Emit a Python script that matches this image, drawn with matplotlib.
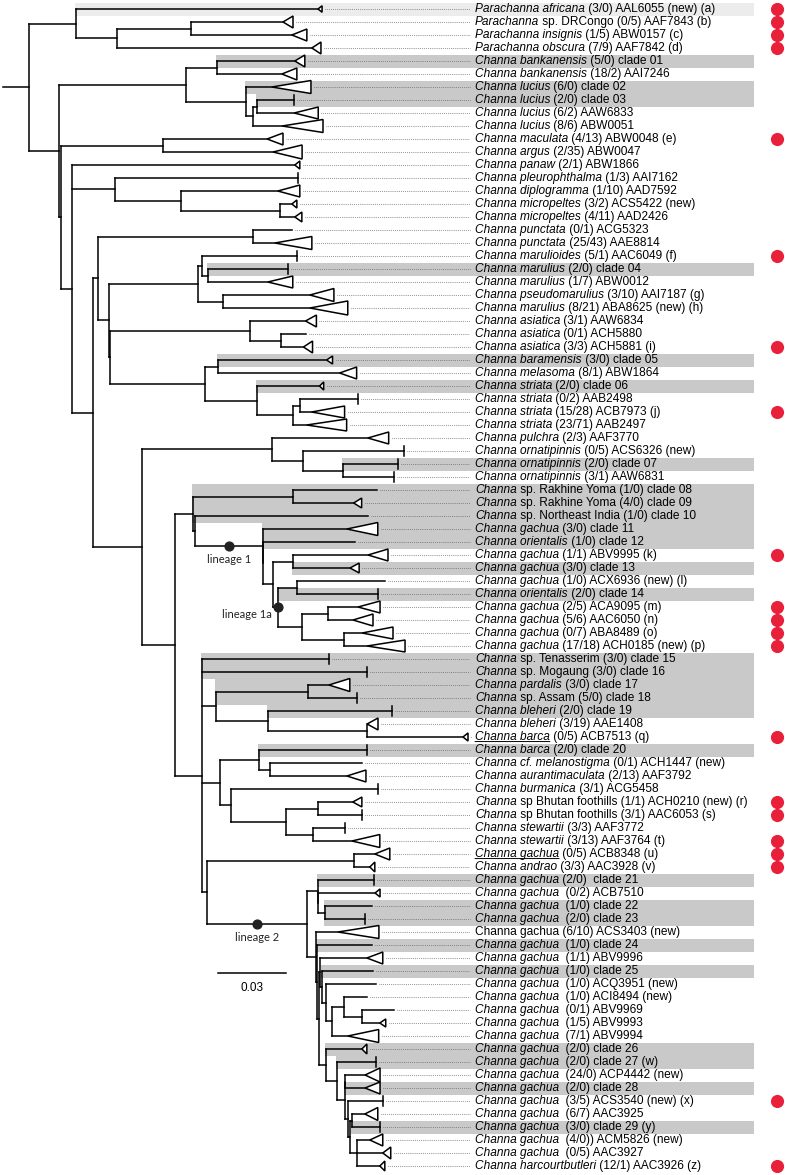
import re
import matplotlib.pyplot as plt
from matplotlib.patches import Polygon, Rectangle

plt.rcParams['font.family'] = ['Liberation Sans', 'DejaVu Sans']

# tree, branch lengths in substitutions/site;
# leaves are numbered by their row from the top
PARACHANNA = "(1:0.1065,((2:0.0405,3:0.0444)BC:0.0326,4:0.0858)BCD:0.0180)PARA:0.0207"
BANK_LUCIUS = ("((5:0.0343,6:0.0286)BANK:0.0136,(7:0.0114,((8:0.0163,9:0.0163)LUC3:0.0018,"
               "10:0.0128)LUC2:0.0031)LUC:0.0264)BL:0.0559")
MACULATA = "(11:0.0458,12:0.0484)MA:0.0449"
MICROPELTES = "(14:0.0805,(15:0.0427,(16:0.0053,17:0.0066)E:0.0436)D:0.0290)C:0.0189"
MARULIUS = ("((18:0.0172,19:0.0097)H:0.0682,(((20:0.0418,(21:0.0352,22:0.0264)J2:0.0026)J1:0.0018,"
            "(23:0.0383,24:0.0383)M:0.0110)J:0.0392,((25:0.0242,(26:0.0114,27:0.0101)K1:0.0132)K:0.0620,"
            "((28:0.0480,29:0.0537)L1:0.0057,(30:0.0277,((31:0.0255,32:0.0053)L4:0.0031,"
            "33:0.0062)L3:0.0158)L2:0.0229)L:0.0418)I2:0.0004)I1:0.0048)G:0.0022")
ORNATIPINNIS = "(34:0.0422,(35:0.0444,(36:0.0242,37:0.0224)O2:0.0176)O1:0.0136)O:0.0572"
LINEAGE1 = ("((38:0.0370,39:0.0268)R1:0.0440,(40:0.0761,(41:0.0370,(42:0.0405,((43:0.0330,"
            "44:0.0251)U1:0.0088,((45:0.0387,46:0.0356)V:0.0084,((47:0.0132,48:0.0110)W1:0.0114,"
            "(49:0.0079,50:0.0101)W2:0.0185)W:0.0106)X:0.0022)U:0.0044)S1:0.0001)S:0.0299)R2:0.0009)R:0.0079")
LINEAGE2_LOW = ("(81:0.0158,(82:0.0172,((83:0.0088,84:0.0088)N345a:0.0001,(85:0.0154,((86:0.0057,"
                "87:0.0123)N352:0.0009,(88:0.0057,89:0.0114,90:0.0101)N357:0.0031)N350:0.0009)"
                "N348:0.0013)N345:0.0035)N337:0.0048)N326b:0.0031")
LINEAGE2 = ("((68:0.0246,(69:0.0251,(70:0.0207,71:0.0176)N325:0.0031)N318b:0.0001)N318a:0.0048,"
            "(72:0.0097,(73:0.0242,((74:0.0207,(75:0.0224,(76:0.0220,((77:0.0101,(78:0.0141,"
            "79:0.0079)N362:0.0079)N344:0.0053,80:0.0070)N332:0.0026)N326a:0.0018)N322:0.0009)M4:0.0004,"
            + LINEAGE2_LOW + ")M3:0.0009)M2:0.0004)M1:0.0040)LIN2:0.0440")
OTHERS = ("(51:0.0559,52:0.0726,((53:0.0092,54:0.0216)Y1:0.0405,(55:0.0546,(56:0.0000,"
          "57:0.0422)Y3:0.0436)Y2:0.0229)Y:0.0062,((58:0.0475,(59:0.0405,60:0.0339)Z2:0.0048)Z1:0.0172,"
          "(61:0.0647,((62:0.0154,63:0.0194)Z5:0.0141,(64:0.0141,65:0.0172)Z6:0.0119)Z4:0.0242)Z3:0.0048)"
          "Z:0.0079,((66:0.0092,67:0.0070)UV:0.0647," + LINEAGE2 + ")Q2:0.0022)Q:0.0119")
NEWICK = ("(" + PARACHANNA + ",(" + BANK_LUCIUS + ",(" + MACULATA + ",(13:0.0981," + MICROPELTES
          + ",(" + MARULIUS + ",(" + ORNATIPINNIS + ",(" + LINEAGE1 + "," + OTHERS
          + ")P:0.0145)N:0.0216)F:0.0092)B:0.0048)A2:0.0009)A1:0.0132)ROOT:0.0114;")

LABELS = [
    "*Parachanna africana* (3/0) AAL6055 (new) (a)", "*Parachanna* sp. DRCongo (0/5) AAF7843 (b)",
    "*Parachanna insignis* (1/5) ABW0157 (c)", "*Parachanna obscura* (7/9) AAF7842 (d)",
    "*Channa bankanensis* (5/0) clade 01", "*Channa bankanensis* (18/2) AAI7246",
    "*Channa lucius* (6/0) clade 02", "*Channa lucius* (2/0) clade 03",
    "*Channa lucius* (6/2) AAW6833", "*Channa lucius* (8/6) ABW0051",
    "*Channa maculata* (4/13) ABW0048 (e)", "*Channa argus* (2/35) ABW0047",
    "*Channa panaw* (2/1) ABW1866", "*Channa pleurophthalma* (1/3) AAI7162",
    "*Channa diplogramma* (1/10) AAD7592", "*Channa micropeltes* (3/2) ACS5422 (new)",
    "*Channa micropeltes* (4/11) AAD2426", "*Channa punctata* (0/1) ACG5323",
    "*Channa punctata* (25/43) AAE8814", "*Channa marulioides* (5/1) AAC6049 (f)",
    "*Channa marulius* (2/0) clade 04", "*Channa marulius* (1/7) ABW0012",
    "*Channa pseudomarulius* (3/10) AAI7187 (g)", "*Channa marulius* (8/21) ABA8625 (new) (h)",
    "*Channa asiatica* (3/1) AAW6834", "*Channa asiatica* (0/1) ACH5880",
    "*Channa asiatica* (3/3) ACH5881 (i)", "*Channa baramensis* (3/0) clade 05",
    "*Channa melasoma* (8/1) ABW1864", "*Channa striata* (2/0) clade 06",
    "*Channa striata* (0/2) AAB2498", "*Channa striata* (15/28) ACB7973 (j)",
    "*Channa striata* (23/71) AAB2497", "*Channa pulchra* (2/3) AAF3770",
    "*Channa ornatipinnis* (0/5) ACS6326 (new)", "*Channa ornatipinnis* (2/0) clade 07",
    "*Channa ornatipinnis* (3/1) AAW6831", "*Channa* sp. Rakhine Yoma (1/0) clade 08",
    "*Channa* sp. Rakhine Yoma (4/0) clade 09", "*Channa* sp. Northeast India (1/0) clade 10",
    "*Channa gachua* (3/0) clade 11", "*Channa orientalis* (1/0) clade 12",
    "*Channa gachua* (1/1) ABV9995 (k)", "*Channa gachua* (3/0) clade 13",
    "*Channa gachua* (1/0) ACX6936 (new) (l)", "*Channa orientalis* (2/0) clade 14",
    "*Channa gachua* (2/5) ACA9095 (m)", "*Channa gachua* (5/6) AAC6050 (n)",
    "*Channa gachua* (0/7) ABA8489 (o)", "*Channa gachua* (17/18) ACH0185 (new) (p)",
    "*Channa* sp. Tenasserim (3/0) clade 15", "*Channa* sp. Mogaung (3/0) clade 16",
    "*Channa pardalis* (3/0) clade 17", "*Channa* sp. Assam (5/0) clade 18",
    "*Channa bleheri* (2/0) clade 19", "*Channa bleheri* (3/19) AAE1408",
    "_Channa barca_ (0/5) ACB7513 (q)", "*Channa barca* (2/0) clade 20",
    "*Channa cf. melanostigma* (0/1) ACH1447 (new)", "*Channa aurantimaculata* (2/13) AAF3792",
    "*Channa burmanica* (3/1) ACG5458", "*Channa* sp Bhutan foothills (1/1) ACH0210 (new) (r)",
    "*Channa* sp Bhutan foothills (3/1) AAC6053 (s)", "*Channa stewartii* (3/3) AAF3772",
    "*Channa stewartii* (3/13) AAF3764 (t)", "_Channa gachua_ (0/5) ACB8348 (u)",
    "*Channa andrao* (3/3) AAC3928 (v)", "*Channa gachua* (2/0)  clade 21",
    "*Channa gachua*  (0/2) ACB7510", "*Channa gachua*  (1/0) clade 22",
    "*Channa gachua*  (2/0) clade 23", "Channa gachua (6/10) ACS3403 (new)",
    "*Channa gachua*  (1/0) clade 24", "*Channa gachua*  (1/1) ABV9996",
    "*Channa gachua*  (1/0) clade 25", "*Channa gachua*  (1/0) ACQ3951 (new)",
    "*Channa gachua*  (1/0) ACI8494 (new)", "*Channa gachua*  (0/1) ABV9969",
    "*Channa gachua*  (1/5) ABV9993", "*Channa gachua*  (7/1) ABV9994",
    "*Channa gachua*  (2/0) clade 26", "*Channa gachua*  (2/0) clade 27 (w)",
    "*Channa gachua*  (24/0) ACP4442 (new)", "*Channa gachua*  (2/0) clade 28",
    "*Channa gachua*  (3/5) ACS3540 (new) (x)", "*Channa gachua*  (6/7) AAC3925",
    "*Channa gachua*  (3/0) clade 29 (y)", "*Channa gachua*  (4/0)) ACM5826 (new)",
    "*Channa gachua*  (0/5) AAC3927", "*Channa harcourtbutleri* (12/1) AAC3926 (z)",
]

# collapsed clades: triangle length (subst./site), 0 = tick, -1 = plain tip
TRI_LEN = [0.0018, 0.0044, 0.0066, 0.0040, 0.0044, 0.0066, 0.0172, 0, 0.0106, 0.0180,
           0.0070, 0.0128, 0.0022, 0, 0.0097, 0.0022, 0.0031, -1, 0.0163, 0,
           0, 0.0110, 0.0106, 0.0167, 0.0048, -1, 0.0040, 0.0026, 0.0075, 0.0018,
           0, 0.0145, 0.0176, 0.0092, 0, 0, 0, -1, 0.0035, -1,
           0.0136, -1, 0.0088, 0.0040, -1, 0, 0.0097, 0.0088, 0.0136, 0.0167,
           0, 0, 0.0092, 0, 0, 0.0048, 0.0022, 0, -1, 0.0084,
           0, 0.0040, 0, 0, 0.0123, 0.0066, 0.0022, 0, 0.0022, -1,
           0, 0.0180, -1, 0.0070, -1, -1, -1, -1, 0.0026, 0.0136,
           0.0022, 0, 0.0066, 0.0066, 0, 0.0057, 0, 0.0057, 0.0035, 0.0022]
# half height of each triangle / tick, in rows
TRI_HALF = [0.25, 0.46, 0.46, 0.46, 0.46, 0.46, 0.5, 0.38, 0.46, 0.5,
            0.46, 0.54, 0.31, 0.38, 0.46, 0.31, 0.38, 0, 0.5, 0.38,
            0.38, 0.46, 0.5, 0.54, 0.46, 0, 0.46, 0.31, 0.46, 0.31,
            0.38, 0.46, 0.46, 0.46, 0.38, 0.38, 0.38, 0, 0.38, 0,
            0.5, 0, 0.46, 0.38, 0, 0.38, 0.46, 0.46, 0.46, 0.46,
            0.38, 0.38, 0.5, 0.38, 0.38, 0.46, 0.31, 0.38, 0, 0.46,
            0.38, 0.38, 0.38, 0.38, 0.5, 0.46, 0.38, 0.38, 0.31, 0,
            0.38, 0.5, 0, 0.46, 0, 0, 0, 0, 0.31, 0.5,
            0.38, 0.38, 0.54, 0.46, 0.38, 0.5, 0.38, 0.46, 0.46, 0.38]

# shaded clades: first row, last row, node the shading starts at
BANDS = [(1, 1, "PARA"), (5, 5, "BANK"), (7, 7, "LUC"), (8, 8, "LUC3"), (21, 21, "J2"),
         (28, 28, "L1"), (30, 30, "L2"), (36, 36, "O2"), (38, 40, "R"), (41, 42, "S"),
         (44, 44, "U1"), (46, 46, "X"), (51, 52, "Q"), (53, 54, "Y"), (55, 55, "Y2"),
         (58, 58, "Z1"), (68, 68, "N318a"), (70, 71, "N325"), (73, 73, "M2"), (75, 75, "N322"),
         (81, 81, "N326b"), (82, 82, "N337"), (84, 84, "N345"), (87, 87, "N352")]

RED_ROWS = [1, 2, 3, 4, 11, 20, 27, 32, 43, 47, 48, 49, 50, 57, 62, 63, 65, 66, 67, 85, 90]

# lineage marks: label, node, dot on the branch middle or on the node itself
LINEAGES = [("lineage 1", "S", "mid"), ("lineage 1a", "X", "node"), ("lineage 2", "LIN2", "mid")]
SCALE = 0.03

PXU = 1 / 0.00044  # pixels per substitution unit


def X(px):
    return (px - 3) / PXU


def Yr(px):
    return (px - 9) / 13


def parse(s):
    pos = 0

    def node():
        nonlocal pos
        kids = []
        if s[pos] == "(":
            pos += 1
            kids.append(node())
            while s[pos] == ",":
                pos += 1
                kids.append(node())
            pos += 1
        m = re.match(r"([^:,();]*)(?::([0-9.]+))?", s[pos:])
        pos += m.end()
        return {"name": m.group(1), "len": float(m.group(2) or 0), "kids": kids}

    return node()


def layout(n, x0, out):
    n["x0"] = x0
    n["x"] = x0 + n["len"]
    for k in n["kids"]:
        layout(k, n["x"], out)
    if n["kids"]:
        n["y"] = (n["kids"][0]["y"] + n["kids"][-1]["y"]) / 2
    else:
        n["y"] = int(n["name"]) - 1
    out.append(n)


tree = parse(NEWICK)
nodes = []
layout(tree, 0.0, nodes)
by_name = {n["name"]: n for n in nodes}

fig = plt.figure(figsize=(7.85, 11.75), dpi=100)
ax = fig.add_axes([0, 0, 1, 1])
ax.set_xlim(X(0), X(785))
ax.set_ylim(Yr(1175), Yr(0))
ax.axis("off")

LW = 1.1

# shaded bands behind the clades
for i, (r0, r1, nm) in enumerate(BANDS):
    x0 = by_name[nm]["x"] - 1 / PXU
    ax.add_patch(Rectangle((x0, r0 - 1.5), X(754) - x0, r1 - r0 + 1,
                           fc="#ececec" if i == 0 else "#c9c9c9", ec="none", zorder=0))

# branches
for n in nodes:
    ax.plot([n["x0"], n["x"]], [n["y"], n["y"]], color="k", lw=LW,
            solid_capstyle="projecting", zorder=2)
    if n["kids"]:
        ax.plot([n["x"], n["x"]], [n["kids"][0]["y"], n["kids"][-1]["y"]], color="k",
                lw=LW, solid_capstyle="projecting", zorder=2)

# tips: triangles, ticks and dotted leaders
for n in nodes:
    if n["kids"]:
        continue
    i = int(n["name"]) - 1
    L, h, y = TRI_LEN[i], TRI_HALF[i], n["y"]
    end = n["x"]
    if L > 0:
        ax.add_patch(Polygon([(end, y), (end + L, y - h), (end + L, y + h)], closed=True,
                             fc="white", ec="k", lw=LW, zorder=3))
        end += L
    elif L == 0:
        ax.plot([end, end], [y - h, y + h], color="k", lw=LW, zorder=3)
    ax.plot([end + 3 / PXU, X(470)], [y, y], color="#555555", lw=0.6,
            linestyle=(0, (0.8, 1.5)), zorder=1)

# tip labels with italic / underlined names
for i, lab in enumerate(LABELS):
    prev = None
    for part in re.split(r"([*_][^*_]+[*_])", lab):
        if not part:
            continue
        under = part[0] == "_"
        italic = part[0] in "*_"
        if italic:
            part = part[1:-1]
        kw = dict(fontsize=8.6, fontstyle="italic" if italic else "normal", zorder=4)
        if prev is None:
            t = ax.text(X(475), i, part, va="center", ha="left", **kw)
        else:
            t = ax.annotate(part, xy=(1, 0), xycoords=prev, va="bottom", ha="left", **kw)
        if under:
            ax.annotate("", xy=(0, 0.12), xycoords=t, xytext=(1, 0.12), textcoords=t,
                        arrowprops=dict(arrowstyle="-", lw=0.7, shrinkA=0, shrinkB=0))
        prev = t

# red markers
ax.scatter([X(777)] * len(RED_ROWS), [r - 1 for r in RED_ROWS], s=90, color="#e8203a",
           linewidths=0, zorder=5)

# lineage markers
for lab, nm, where in LINEAGES:
    n = by_name[nm]
    x = (n["x0"] + n["x"]) / 2 if where == "mid" else n["x"]
    ax.scatter([x], [n["y"]], s=40, color="#222222", zorder=5)
    if where == "mid":
        ax.text(x, n["y"] + 1.0, lab, ha="center", va="center", fontsize=8,
                family=["Lato", "DejaVu Sans"], color="#222222")
    else:
        ax.text(x - 6 / PXU, n["y"] + 0.6, lab, ha="right", va="center", fontsize=8,
                family=["Lato", "DejaVu Sans"], color="#222222")

# scale bar
ax.plot([X(218), X(218) + SCALE], [Yr(973), Yr(973)], color="k", lw=LW)
ax.text(X(218) + SCALE / 2, Yr(988), f"{SCALE:.2f}", ha="center", va="center", fontsize=8.5)

fig.savefig("out.png", dpi=100)
